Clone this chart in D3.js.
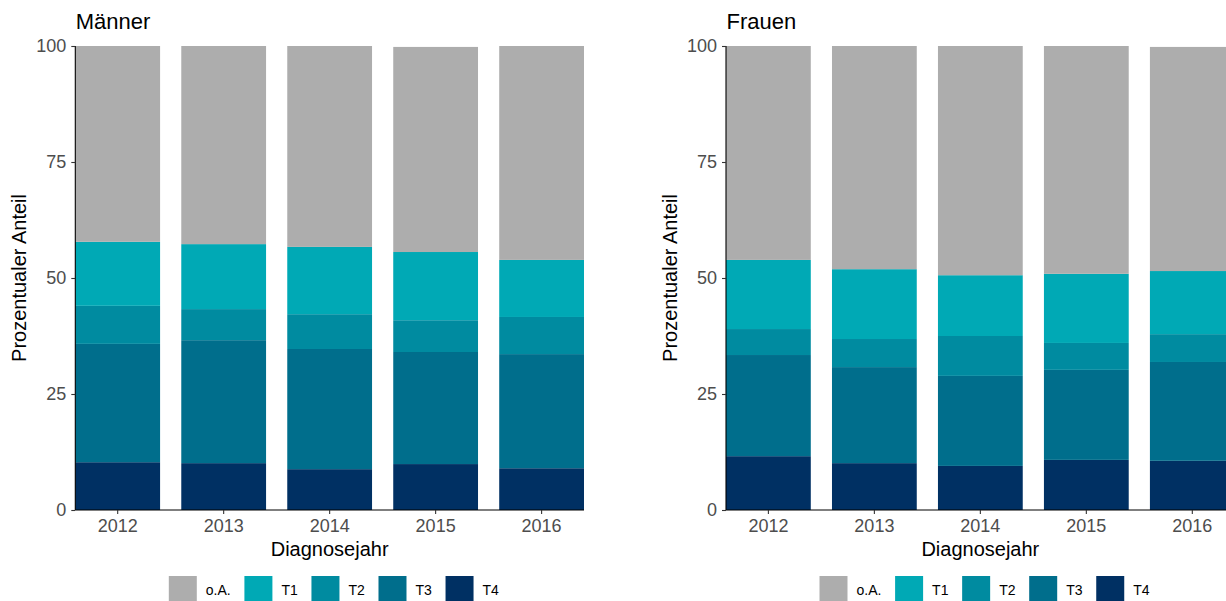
<!DOCTYPE html>
<html>
<head>
<meta charset="utf-8">
<script src="https://cdn.jsdelivr.net/npm/d3@7"></script>
<style>
  html, body { margin: 0; padding: 0; background: #fff; }
  svg { display: block; }
  text { font-family: "Liberation Sans", Arial, sans-serif; }
</style>
</head>
<body>
<svg id="chart" width="1226" height="601"></svg>
<script>
// ---------- data ----------
const years = ["2012", "2013", "2014", "2015", "2016"];
const categories = ["o.A.", "T1", "T2", "T3", "T4"];
const yTicks = [0, 25, 50, 75, 100];

// Männer (percent)
const maennerOA = [42.2, 42.7, 43.3, 44.2, 46.1];
const maennerT1 = [13.8, 14.0, 14.5, 14.7, 12.3];
const maennerT2 = [8.2, 6.7, 7.5, 6.85, 8.0];
const maennerT3 = [25.5, 26.5, 25.9, 24.15, 24.6];
const maennerT4 = [10.3, 10.1, 8.8, 9.9, 9.0];

// Frauen (percent)
const frauenOA = [46.1, 48.1, 49.4, 49.1, 48.3];
const frauenT1 = [14.9, 15.05, 13.1, 14.9, 13.6];
const frauenT2 = [5.6, 6.05, 8.6, 5.8, 6.0];
const frauenT3 = [21.8, 20.7, 19.4, 19.4, 21.3];
const frauenT4 = [11.6, 10.1, 9.5, 10.8, 10.6];

const colors = ["#ADADAD", "#00A9B5", "#008BA0", "#006E8C", "#003063"];

// ---------- build ----------
function table(oa, t1, t2, t3, t4) {
  return years.map((y, i) => ({ year: y, "o.A.": oa[i], T1: t1[i], T2: t2[i], T3: t3[i], T4: t4[i] }));
}
const panels = [
  { title: "Männer", x0: 75.3, data: table(maennerOA, maennerT1, maennerT2, maennerT3, maennerT4) },
  { title: "Frauen", x0: 726, data: table(frauenOA, frauenT1, frauenT2, frauenT3, frauenT4) }
];

const svg = d3.select("#chart");
const plotW = 508.7, yTop = 46, yBot = 510;
const color = d3.scaleOrdinal().domain(categories).range(colors);
// stack order: T4 at bottom, o.A. on top
const stack = d3.stack().keys(categories.slice().reverse());

panels.forEach(p => {
  const g = svg.append("g");
  const x = d3.scaleBand().domain(years).range([p.x0, p.x0 + plotW]).paddingInner(0.2).paddingOuter(0);
  const y = d3.scaleLinear().domain([0, 100]).range([yBot, yTop]);

  const series = stack(p.data);
  g.selectAll("g.series").data(series).join("g")
    .attr("fill", d => color(d.key))
    .selectAll("rect").data(d => d).join("rect")
      .attr("x", d => x(d.data.year))
      .attr("width", x.bandwidth())
      .attr("y", d => y(d[1]))
      .attr("height", d => y(d[0]) - y(d[1]));

  // y axis
  const ya = g.append("g").attr("transform", `translate(${p.x0},0)`)
    .call(d3.axisLeft(y).tickValues(yTicks).tickSize(4).tickPadding(5));
  ya.select(".domain").attr("stroke", "#000").attr("stroke-width", 1.1).attr("d", `M0,${yTop}V${yBot}`);
  ya.selectAll(".tick line").attr("stroke", "#333").attr("stroke-width", 1.1);
  ya.selectAll(".tick text").attr("fill", "#4D4D4D").style("font-size", "18px")
    .style("font-family", "Liberation Sans, Arial, sans-serif");

  // x axis
  const xa = g.append("g").attr("transform", `translate(0,${yBot})`)
    .call(d3.axisBottom(x).tickSize(4).tickPadding(5));
  xa.select(".domain").attr("stroke", "#000").attr("stroke-width", 1.1).attr("d", `M${p.x0},0H${p.x0 + plotW}`);
  xa.selectAll(".tick line").attr("stroke", "#333").attr("stroke-width", 1.1);
  xa.selectAll(".tick text").attr("fill", "#4D4D4D").style("font-size", "18px")
    .style("font-family", "Liberation Sans, Arial, sans-serif");

  // title
  g.append("text").attr("x", p.x0 + 0.5).attr("y", 29).text(p.title)
    .attr("fill", "#000").style("font-size", "22px");

  // axis titles
  g.append("text").attr("x", p.x0 + plotW / 2).attr("y", 556).attr("text-anchor", "middle")
    .text("Diagnosejahr").attr("fill", "#000").style("font-size", "20px");
  g.append("text")
    .attr("transform", `translate(${p.x0 - 49},${(yTop + yBot) / 2}) rotate(-90)`)
    .attr("text-anchor", "middle").text("Prozentualer Anteil")
    .attr("fill", "#000").style("font-size", "20px");

  // legend
  const lg = g.append("g").attr("transform", `translate(${p.x0 + 93.5},0)`);
  let cx = 0;
  const keyS = 28;
  categories.forEach(c => {
    lg.append("rect").attr("x", cx).attr("y", 576).attr("width", keyS).attr("height", keyS).attr("fill", color(c));
    const t = lg.append("text").attr("x", cx + keyS + 9).attr("y", 590).attr("dy", "0.35em")
      .text(c).attr("fill", "#000").style("font-size", "14px");
    cx += keyS + 9 + t.node().getComputedTextLength() + 13.7;
  });
});
</script>
</body>
</html>
